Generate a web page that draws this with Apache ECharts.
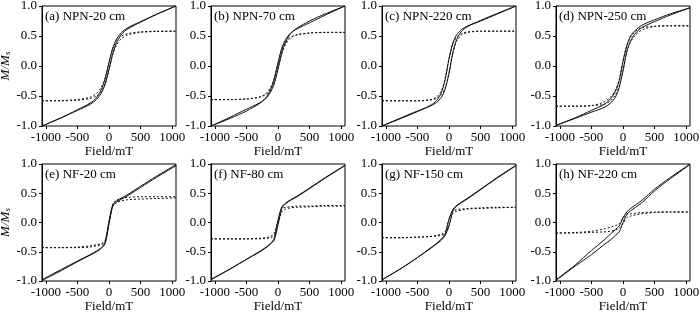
<!DOCTYPE html>
<html>
<head>
<meta charset="utf-8">
<script src="https://cdn.jsdelivr.net/npm/echarts@6/dist/echarts.min.js"></script>
<style>
  html, body { margin: 0; padding: 0; background: #fff; }
  #chart { width: 700px; height: 314px; }
</style>
</head>
<body>
<div id="chart"></div>
<script>
// 磁场 (mT)
var field = [-1060, -750, -500, -300, -200, -120, -60, 0, 60, 120, 200, 300, 500, 750, 1060]
var titles = ['(a) NPN-20 cm', '(b) NPN-70 cm', '(c) NPN-220 cm', '(d) NPN-250 cm',
  '(e) NF-20 cm', '(f) NF-80 cm', '(g) NF-150 cm', '(h) NF-220 cm']

// 实线 上支 (降场)
var solidUpper = [
  [-1.0, -0.86, -0.73, -0.62, -0.53, -0.39, -0.21, 0.06, 0.30, 0.45, 0.56, 0.64, 0.74, 0.86, 1.0],
  [-1.0, -0.87, -0.75, -0.63, -0.54, -0.40, -0.22, 0.05, 0.30, 0.44, 0.55, 0.62, 0.72, 0.85, 1.0],
  [-1.0, -0.87, -0.76, -0.66, -0.58, -0.44, -0.22, 0.12, 0.38, 0.52, 0.61, 0.67, 0.75, 0.86, 1.0],
  [-0.99, -0.86, -0.74, -0.64, -0.55, -0.42, -0.24, 0.08, 0.34, 0.50, 0.60, 0.68, 0.77, 0.87, 0.97],
  [-0.98, -0.80, -0.66, -0.55, -0.49, -0.43, -0.33, 0.02, 0.30, 0.37, 0.42, 0.48, 0.62, 0.79, 0.99],
  [-0.97, -0.79, -0.63, -0.50, -0.43, -0.36, -0.27, 0.04, 0.27, 0.33, 0.39, 0.45, 0.59, 0.77, 0.98],
  [-0.98, -0.78, -0.60, -0.44, -0.36, -0.28, -0.19, 0.06, 0.22, 0.29, 0.35, 0.42, 0.57, 0.76, 0.98],
  [-0.98, -0.72, -0.48, -0.30, -0.20, -0.12, -0.06, 0.08, 0.18, 0.24, 0.30, 0.38, 0.57, 0.77, 1.0]
]
// 实线 下支 (升场)
var solidLower = [
  [-1.0, -0.86, -0.74, -0.64, -0.56, -0.45, -0.30, -0.06, 0.21, 0.39, 0.53, 0.62, 0.73, 0.86, 1.0],
  [-1.0, -0.85, -0.72, -0.62, -0.55, -0.44, -0.30, -0.05, 0.22, 0.40, 0.54, 0.63, 0.75, 0.87, 1.0],
  [-1.0, -0.86, -0.75, -0.67, -0.61, -0.52, -0.38, -0.12, 0.22, 0.44, 0.58, 0.66, 0.76, 0.87, 1.0],
  [-0.99, -0.87, -0.77, -0.69, -0.62, -0.52, -0.36, -0.08, 0.24, 0.42, 0.55, 0.64, 0.74, 0.85, 0.97],
  [-0.99, -0.82, -0.67, -0.56, -0.50, -0.44, -0.36, -0.02, 0.28, 0.35, 0.40, 0.46, 0.60, 0.77, 0.97],
  [-0.98, -0.79, -0.63, -0.51, -0.44, -0.37, -0.30, -0.04, 0.24, 0.32, 0.38, 0.44, 0.58, 0.76, 0.97],
  [-0.98, -0.78, -0.60, -0.45, -0.37, -0.30, -0.22, -0.06, 0.19, 0.28, 0.34, 0.41, 0.56, 0.75, 0.97],
  [-0.99, -0.74, -0.55, -0.38, -0.30, -0.22, -0.16, 0.0, 0.14, 0.20, 0.26, 0.34, 0.54, 0.75, 0.99]
]
// 虚线 (顺磁校正后) 上支
var dotUpper = [
  [-0.58, -0.575, -0.56, -0.52, -0.46, -0.35, -0.19, 0.06, 0.29, 0.42, 0.50, 0.54, 0.57, 0.58, 0.58],
  [-0.56, -0.56, -0.55, -0.52, -0.47, -0.36, -0.20, 0.05, 0.28, 0.40, 0.48, 0.52, 0.55, 0.56, 0.56],
  [-0.58, -0.58, -0.58, -0.56, -0.52, -0.41, -0.20, 0.12, 0.36, 0.48, 0.54, 0.57, 0.58, 0.58, 0.58],
  [-0.67, -0.67, -0.66, -0.60, -0.52, -0.40, -0.23, 0.08, 0.33, 0.48, 0.58, 0.64, 0.66, 0.67, 0.67],
  [-0.43, -0.43, -0.42, -0.40, -0.38, -0.36, -0.30, 0.02, 0.32, 0.38, 0.41, 0.43, 0.44, 0.44, 0.44],
  [-0.28, -0.28, -0.28, -0.27, -0.26, -0.24, -0.18, 0.04, 0.23, 0.26, 0.27, 0.28, 0.28, 0.29, 0.29],
  [-0.26, -0.26, -0.25, -0.24, -0.22, -0.20, -0.15, 0.05, 0.19, 0.22, 0.23, 0.24, 0.25, 0.26, 0.26],
  [-0.18, -0.17, -0.15, -0.11, -0.08, -0.05, -0.03, 0.08, 0.14, 0.15, 0.16, 0.17, 0.18, 0.18, 0.18]
]
// 虚线 下支
var dotLower = [
  [-0.58, -0.58, -0.57, -0.54, -0.50, -0.42, -0.29, -0.06, 0.19, 0.35, 0.46, 0.52, 0.56, 0.575, 0.58],
  [-0.56, -0.56, -0.55, -0.52, -0.48, -0.40, -0.28, -0.05, 0.20, 0.36, 0.47, 0.52, 0.55, 0.56, 0.56],
  [-0.58, -0.58, -0.58, -0.57, -0.54, -0.48, -0.36, -0.12, 0.20, 0.41, 0.52, 0.56, 0.58, 0.58, 0.58],
  [-0.67, -0.67, -0.66, -0.64, -0.58, -0.48, -0.33, -0.08, 0.23, 0.40, 0.52, 0.60, 0.66, 0.67, 0.67],
  [-0.43, -0.43, -0.43, -0.42, -0.40, -0.38, -0.33, -0.02, 0.28, 0.34, 0.37, 0.39, 0.40, 0.41, 0.42],
  [-0.28, -0.28, -0.28, -0.28, -0.27, -0.26, -0.22, -0.04, 0.18, 0.23, 0.25, 0.26, 0.27, 0.28, 0.28],
  [-0.26, -0.26, -0.25, -0.24, -0.23, -0.22, -0.19, -0.05, 0.15, 0.19, 0.21, 0.23, 0.24, 0.25, 0.26],
  [-0.18, -0.18, -0.17, -0.16, -0.15, -0.13, -0.10, -0.02, 0.08, 0.11, 0.13, 0.15, 0.17, 0.18, 0.18]
]

var font = "'Liberation Serif', 'Times New Roman', serif"
var lefts = [42, 211, 382, 556]
var W = 134
var xMax = 1060
var grids = [], xAxes = [], yAxes = [], titleList = [], series = []

// 外框网格: 数据 + y轴
for (var p = 0; p < 8; p++) {
  var row = p < 4 ? 0 : 1
  var gLeft = lefts[p % 4]
  var gTop = row === 0 ? 6 : 164
  var gHeight = row === 0 ? 120 : 117
  grids.push({ left: gLeft, top: gTop, width: W, height: gHeight, show: true, borderColor: '#000', borderWidth: 1,
    outerBoundsMode: 'none', containLabel: false })
  xAxes.push({ type: 'value', gridIndex: p, min: -xMax, max: xMax, show: false })
  var yAxis = {
    type: 'value', gridIndex: p, min: -1, max: 1, interval: 0.5,
    axisLine: { onZero: false, lineStyle: { color: '#000', width: 1 } },
    axisTick: { length: 3, lineStyle: { color: '#000' } },
    axisLabel: { margin: 5, fontFamily: font, fontSize: 13, color: '#000',
      formatter: function (v) { return v.toFixed(1) } },
    splitLine: { show: false }
  }
  if (p % 4 === 0) {
    yAxis.name = '{i|M/M}{s|s}'
    yAxis.nameLocation = 'middle'
    yAxis.nameGap = 26
    yAxis.nameTextStyle = {
      rich: {
        i: { fontFamily: font, fontSize: 13, fontStyle: 'italic', color: '#000' },
        s: { fontFamily: font, fontSize: 9, fontStyle: 'italic', color: '#000', padding: [5, 0, 0, 0] }
      }
    }
  }
  yAxes.push(yAxis)
  titleList.push({
    text: titles[p], left: gLeft + 3, top: gTop + 4, padding: 0,
    textStyle: { fontFamily: font, fontSize: 13, fontWeight: 'normal', color: '#000' }
  })

  var branches = [
    { d: solidUpper[p], type: 'solid' },
    { d: solidLower[p], type: 'solid' },
    { d: dotUpper[p], type: [2, 2] },
    { d: dotLower[p], type: [2, 2] }
  ]
  branches.forEach(function (b) {
    series.push({
      type: 'line', xAxisIndex: p, yAxisIndex: p,
      data: field.map(function (h, i) { return [h, b.d[i]] }),
      showSymbol: false, smooth: 0.3, silent: true,
      lineStyle: { color: '#111', width: 1, type: b.type }
    })
  })
}

// 内网格: 只画 x 轴刻度 (-1000..1000)
var inset = W * (xMax - 1000) / (2 * xMax)
for (var q = 0; q < 8; q++) {
  var g = grids[q]
  grids.push({ left: g.left + inset, top: g.top, width: W - 2 * inset, height: g.height,
    outerBoundsMode: 'none', containLabel: false })
  xAxes.push({
    type: 'value', gridIndex: 8 + q, min: -1000, max: 1000, interval: 500,
    name: 'Field/mT', nameLocation: 'middle', nameGap: 19,
    nameTextStyle: { fontFamily: font, fontSize: 13, color: '#000' },
    axisLine: { show: false, onZero: false },
    axisTick: { length: 3, lineStyle: { color: '#000' } },
    axisLabel: { margin: 5, fontFamily: font, fontSize: 13, color: '#000',
      formatter: function (v) { return String(v) } },
    splitLine: { show: false }
  })
  yAxes.push({ type: 'value', gridIndex: 8 + q, min: -1, max: 1, show: false })
}

var myChart = echarts.init(document.getElementById('chart'))
myChart.setOption({
  animation: false,
  title: titleList,
  grid: grids,
  xAxis: xAxes,
  yAxis: yAxes,
  series: series
})
</script>
</body>
</html>
